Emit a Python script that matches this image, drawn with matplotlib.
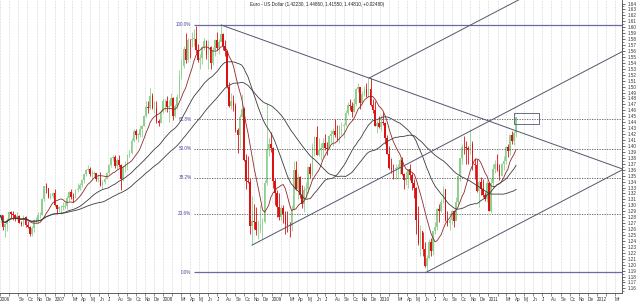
import numpy as np
import pandas as pd
import matplotlib
matplotlib.use('Agg')
import matplotlib.pyplot as plt
import matplotlib.dates as mdates
from matplotlib.patches import Rectangle

# Weekly EUR/USD candles, week starting 2006-07-03 (open = previous close)
first_open = 1.2790
close = [
    # 2006 Jul-Dec
    1.2830, 1.2630, 1.2680, 1.2760, 1.2880,
    1.2850, 1.2830, 1.2770, 1.2820,
    1.2710, 1.2680, 1.2810, 1.2670,
    1.2640, 1.2520, 1.2620, 1.2750, 1.2760,
    1.2830, 1.2840, 1.3100, 1.3320,
    1.3290, 1.3140, 1.3150, 1.3200,
    # 2007
    1.3000, 1.2930, 1.2970, 1.2980, 1.2980,
    1.2990, 1.3130, 1.3230, 1.3140,
    1.3120, 1.3260, 1.3270, 1.3350,
    1.3430, 1.3520, 1.3600, 1.3620, 1.3520,
    1.3520, 1.3540, 1.3450, 1.3450,
    1.3340, 1.3400, 1.3450, 1.3550,
    1.3680, 1.3790, 1.3820, 1.3670, 1.3760,
    1.3680, 1.3450, 1.3640, 1.3670,
    1.3840, 1.3880, 1.4080, 1.4260,
    1.4190, 1.4190, 1.4290, 1.4340, 1.4510,
    1.4660, 1.4640, 1.4840, 1.4640,
    1.4640, 1.4420, 1.4390, 1.4580, 1.4750,
    # 2008
    1.4750, 1.4660, 1.4680, 1.4800,
    1.4500, 1.4670, 1.4830, 1.5180,
    1.5350, 1.5640, 1.5440, 1.5790, 1.5780,
    1.5810, 1.5810, 1.5620, 1.5450,
    1.5490, 1.5660, 1.5770, 1.5530,
    1.5660, 1.5400, 1.5610, 1.5790, 1.5650,
    1.5750, 1.5880, 1.5690, 1.5600,
    1.5000, 1.4680, 1.4760, 1.4680,
    1.4270, 1.4190, 1.4490, 1.4620, 1.3760,
    1.3410, 1.3400, 1.2650, 1.2730,
    1.2720, 1.2580, 1.2580, 1.2690,
    1.2720, 1.3370, 1.3950, 1.4040, 1.3960,
    # 2009
    1.3410, 1.3200, 1.2970, 1.2800,
    1.2950, 1.2850, 1.2680, 1.2670,
    1.2660, 1.2920, 1.3600, 1.3270, 1.3480,
    1.3180, 1.3030, 1.3260, 1.3280,
    1.3650, 1.3520, 1.3990, 1.4150,
    1.3850, 1.3930, 1.3960, 1.4050, 1.3960,
    1.3950, 1.4170, 1.4200, 1.4250,
    1.4190, 1.4180, 1.4330, 1.4340, 1.4350,
    1.4560, 1.4690, 1.4680, 1.4580,
    1.4710, 1.4960, 1.5000, 1.4720,
    1.4870, 1.4960, 1.4860, 1.4960, 1.4690,
    1.4610, 1.4340, 1.4380, 1.4320,
    # 2010
    1.4410, 1.4380, 1.4140, 1.3870,
    1.3630, 1.3620, 1.3610, 1.3630,
    1.3630, 1.3770, 1.3520, 1.3420, 1.3460,
    1.3610, 1.3510, 1.3370, 1.3290,
    1.2760, 1.2360, 1.2570, 1.2270, 1.1970,
    1.2110, 1.2390, 1.2230, 1.2560,
    1.2640, 1.2940, 1.2900, 1.3060,
    1.3280, 1.2760, 1.2710, 1.2760, 1.2900,
    1.2740, 1.3060, 1.3490, 1.3790,
    1.3990, 1.3980, 1.3960, 1.3940,
    1.4040, 1.3700, 1.3680, 1.3240, 1.3400,
    1.3280, 1.3180, 1.3100, 1.3380,
    # 2011 Jan-Apr
    1.2910, 1.3380, 1.3610, 1.3690, 1.3590,
    1.3500, 1.3690, 1.3750, 1.3980,
    1.3910, 1.4180, 1.4090, 1.4223,
    1.4481,
]
high = [
    1.2860, 1.2840, 1.2700, 1.2780, 1.2900,
    1.2900, 1.2900, 1.2850, 1.2880,
    1.2840, 1.2740, 1.2830, 1.2820,
    1.2740, 1.2650, 1.2650, 1.2770, 1.2800,
    1.2880, 1.2880, 1.3120, 1.3330,
    1.3370, 1.3300, 1.3200, 1.3230,
    1.3270, 1.3010, 1.2990, 1.3000, 1.3060,
    1.3060, 1.3160, 1.3240, 1.3270,
    1.3210, 1.3280, 1.3380, 1.3380,
    1.3440, 1.3540, 1.3620, 1.3680, 1.3650,
    1.3590, 1.3580, 1.3540, 1.3520,
    1.3560, 1.3420, 1.3480, 1.3560,
    1.3690, 1.3810, 1.3850, 1.3850, 1.3790,
    1.3850, 1.3690, 1.3660, 1.3740,
    1.3860, 1.3930, 1.4130, 1.4280,
    1.4280, 1.4220, 1.4350, 1.4360, 1.4530,
    1.4750, 1.4760, 1.4970, 1.4900,
    1.4750, 1.4760, 1.4450, 1.4610, 1.4800,
    1.4790, 1.4850, 1.4770, 1.4900,
    1.4830, 1.4700, 1.4870, 1.5280,
    1.5470, 1.5680, 1.5900, 1.5820, 1.5800,
    1.5920, 1.5970, 1.6020, 1.5720,
    1.5550, 1.5680, 1.5820, 1.5780,
    1.5780, 1.5680, 1.5670, 1.5800, 1.5920,
    1.5800, 1.6038, 1.5900, 1.5790,
    1.5620, 1.5070, 1.4900, 1.4860,
    1.4730, 1.4300, 1.4540, 1.4870, 1.4650,
    1.3870, 1.3830, 1.3460, 1.3150,
    1.3020, 1.2970, 1.2750, 1.3000,
    1.2780, 1.3420, 1.4720, 1.4140, 1.4240,
    1.3980, 1.3460, 1.3260, 1.3200,
    1.3000, 1.3000, 1.2900, 1.2900,
    1.2720, 1.3000, 1.3740, 1.3740, 1.3530,
    1.3490, 1.3340, 1.3320, 1.3400,
    1.3660, 1.3720, 1.4050, 1.4160,
    1.4340, 1.4130, 1.4050, 1.4130, 1.4200,
    1.4060, 1.4190, 1.4270, 1.4310,
    1.4450, 1.4350, 1.4350, 1.4400, 1.4390,
    1.4610, 1.4740, 1.4790, 1.4740,
    1.4800, 1.4970, 1.5060, 1.5000,
    1.4930, 1.5010, 1.5060, 1.5144, 1.5140,
    1.4790, 1.4750, 1.4440, 1.4510,
    1.4530, 1.4580, 1.4400, 1.4190,
    1.4000, 1.3790, 1.3700, 1.3690,
    1.3690, 1.3790, 1.3820, 1.3550, 1.3580,
    1.3620, 1.3690, 1.3550, 1.3440,
    1.3310, 1.2990, 1.2670, 1.2550, 1.2380,
    1.2170, 1.2440, 1.2450, 1.2570,
    1.2720, 1.2960, 1.3030, 1.3110,
    1.3330, 1.3280, 1.2900, 1.2780, 1.2920,
    1.2920, 1.3140, 1.3500, 1.3800,
    1.4030, 1.4160, 1.4080, 1.4000,
    1.4280, 1.4080, 1.3790, 1.3780, 1.3420,
    1.3470, 1.3440, 1.3220, 1.3420,
    1.3400, 1.3460, 1.3690, 1.3760, 1.3860,
    1.3700, 1.3720, 1.3830, 1.4000,
    1.4040, 1.4190, 1.4250, 1.4250,
    1.4486,
]
low = [
    1.2710, 1.2580, 1.2460, 1.2560, 1.2720,
    1.2780, 1.2750, 1.2740, 1.2760,
    1.2700, 1.2650, 1.2660, 1.2630,
    1.2620, 1.2490, 1.2480, 1.2550, 1.2700,
    1.2700, 1.2780, 1.2830, 1.3080,
    1.3210, 1.3120, 1.3100, 1.3120,
    1.2990, 1.2860, 1.2890, 1.2860, 1.2920,
    1.2930, 1.2940, 1.3080, 1.3100,
    1.3060, 1.3120, 1.3230, 1.3250,
    1.3310, 1.3380, 1.3500, 1.3570, 1.3490,
    1.3440, 1.3470, 1.3410, 1.3400,
    1.3320, 1.3270, 1.3360, 1.3440,
    1.3530, 1.3650, 1.3750, 1.3630, 1.3620,
    1.3640, 1.3260, 1.3410, 1.3560,
    1.3600, 1.3810, 1.3860, 1.4060,
    1.4110, 1.4070, 1.4150, 1.4150, 1.4330,
    1.4490, 1.4560, 1.4620, 1.4620,
    1.4560, 1.4390, 1.4340, 1.4380, 1.4560,
    1.4590, 1.4580, 1.4400, 1.4670,
    1.4440, 1.4480, 1.4620, 1.4800,
    1.5130, 1.5310, 1.5400, 1.5420, 1.5480,
    1.5660, 1.5680, 1.5560, 1.5420,
    1.5290, 1.5380, 1.5620, 1.5470,
    1.5300, 1.5300, 1.5370, 1.5520, 1.5610,
    1.5550, 1.5790, 1.5620, 1.5520,
    1.4970, 1.4650, 1.4630, 1.4590,
    1.4230, 1.3880, 1.3960, 1.4490, 1.3740,
    1.3280, 1.3380, 1.2520, 1.2330,
    1.2600, 1.2500, 1.2430, 1.2540,
    1.2440, 1.2700, 1.3340, 1.3830, 1.3900,
    1.3290, 1.3000, 1.2800, 1.2750,
    1.2750, 1.2700, 1.2510, 1.2550,
    1.2460, 1.2570, 1.2920, 1.3260, 1.3110,
    1.3130, 1.2960, 1.2890, 1.3120,
    1.3210, 1.3460, 1.3500, 1.3830,
    1.3840, 1.3830, 1.3760, 1.3820, 1.3930,
    1.3840, 1.3960, 1.4050, 1.4000,
    1.4150, 1.4080, 1.4050, 1.4190, 1.4130,
    1.4330, 1.4530, 1.4600, 1.4480,
    1.4570, 1.4670, 1.4910, 1.4630,
    1.4700, 1.4840, 1.4830, 1.4830, 1.4680,
    1.4560, 1.4330, 1.4220, 1.4300,
    1.4260, 1.4360, 1.4030, 1.3860,
    1.3620, 1.3540, 1.3440, 1.3440,
    1.3440, 1.3530, 1.3510, 1.3270, 1.3350,
    1.3300, 1.3420, 1.3250, 1.3120,
    1.2520, 1.2340, 1.2150, 1.2150, 1.1960,
    1.1876, 1.2090, 1.2150, 1.2160,
    1.2510, 1.2590, 1.2720, 1.2880,
    1.3040, 1.2740, 1.2660, 1.2590, 1.2690,
    1.2630, 1.2790, 1.3000, 1.3410,
    1.3690, 1.3860, 1.3700, 1.3690,
    1.3870, 1.3600, 1.3450, 1.3220, 1.2970,
    1.3170, 1.3140, 1.3070, 1.3060,
    1.2900, 1.2870, 1.3300, 1.3550, 1.3570,
    1.3430, 1.3490, 1.3600, 1.3700,
    1.3820, 1.3850, 1.4030, 1.4010,
    1.4155,
]

title = 'Euro - US Dollar (1.42230, 1.44860, 1.41550, 1.44810, +0.02480)'
ma_periods = [10, 30, 50]
ma_colors = ['#8e2b2b', '#3c3c3c', '#3c3c3c']

fib_pcts = [0.0, 23.6, 38.2, 50.0, 61.8, 100.0]
fib_start = '2008-04-15'
swing_low, swing_high = 1.1876, 1.6038

# trend line anchors (date, price)
down_a = ('2008-07-15', 1.6038)
down_b = ('2009-11-25', 1.5144)
chan_anchors = [('2008-10-27', 1.2330), ('2009-11-25', 1.5144), ('2010-06-07', 1.1876)]
chan_slope = 0.0955  # price per year

box_x = ('2011-03-28', '2011-06-20')
box_y = (1.4365, 1.4555)

month_abbr = ['', '', 'Mr', 'Ap', 'Mj', 'Jn', 'Jl', 'Au', 'Se', 'Oc', 'No', 'De']

# ---------------------------------------------------------------
weeks = pd.date_range('2006-07-03', periods=len(close), freq='7D')
opens = [first_open] + close[:-1]
xd = mdates.date2num(weeks)

plt.rcParams['font.family'] = ['Liberation Sans', 'DejaVu Sans']
fig = plt.figure(figsize=(6.4, 3.04), dpi=100)
ax = fig.add_axes([0.0, 0.036, 0.972, 0.964])

x_left = mdates.date2num(pd.Timestamp('2006-07-01'))
x_right = mdates.date2num(pd.Timestamp('2012-03-26'))
ax.set_xlim(x_left, x_right)
ax.set_ylim(1.1522, 1.6459)

# monthly vertical grid
months = pd.date_range('2006-07-01', '2012-03-01', freq='MS')
for m in months:
    ax.axvline(mdates.date2num(m), color='#c9c9c9', lw=0.5, ls=(0, (1, 1.2)), zorder=0)

# candles
for xi, o, h, l, c in zip(xd, opens, high, low, close):
    col = '#8fd08f' if c >= o else '#dd1111'
    ax.vlines(xi, l, h, color=col, lw=0.6, zorder=2)
    ax.bar(xi, max(abs(c - o), 0.0008), bottom=min(o, c), width=5.5, color=col,
           linewidth=0, zorder=3)

# moving averages
cs = pd.Series(close, index=weeks)
for p, col in zip(ma_periods, ma_colors):
    ma = cs.rolling(p, min_periods=1).mean()
    ax.plot(xd, ma.values, color=col, lw=0.6, zorder=4)

# fibonacci levels
fx0 = mdates.date2num(pd.Timestamp(fib_start))
for pct in fib_pcts:
    lvl = swing_low + pct / 100 * (swing_high - swing_low)
    if pct in (0.0, 100.0):
        ax.hlines(lvl, fx0, x_right, color='#6a6aa6', lw=0.9, zorder=5)
    else:
        ax.hlines(lvl, fx0, x_right, color='#555555', lw=0.6, ls=(0, (1.5, 1.5)), zorder=5)
    ax.annotate(f'{pct:.1f}%', (fx0, lvl), xytext=(-2, 0), textcoords='offset points',
                ha='right', va='center', fontsize=3.3, color='#4a4aa0')

# trend lines
def dn(s):
    return mdates.date2num(pd.Timestamp(s))

a0, a1 = dn(down_a[0]), dn(down_b[0])
slope_d = (down_b[1] - down_a[1]) / (a1 - a0)
ax.plot([a0, x_right], [down_a[1], down_a[1] + slope_d * (x_right - a0)],
        color='#55556e', lw=0.7, zorder=5)
sl = chan_slope / 365.25
for d, p in chan_anchors:
    x0 = dn(d)
    ax.plot([x0, x_right], [p, p + sl * (x_right - x0)], color='#55556e', lw=0.7, zorder=5)

bx0, bx1 = dn(box_x[0]), dn(box_x[1])
ax.add_patch(Rectangle((bx0, box_y[0]), bx1 - bx0, box_y[1] - box_y[0], fill=False,
                       edgecolor='#55556e', lw=0.6, zorder=6))

ax.text(0.402, 0.986, title, transform=ax.transAxes, fontsize=3.3, ha='left', va='center',
        color='#222222')

# axes styling
ax.spines['left'].set_visible(False)
ax.spines['top'].set_visible(False)
ax.spines['right'].set_color('#444444')
ax.spines['bottom'].set_color('#444444')
ax.spines['right'].set_linewidth(0.6)
ax.spines['bottom'].set_linewidth(0.6)
ax.yaxis.tick_right()
yt = np.round(np.arange(1.16, 1.645, 0.01), 2)
ax.set_yticks(yt)
ax.set_yticklabels([f'{v:.2f}' for v in yt])
ax.set_yticks(np.round(np.arange(1.155, 1.645, 0.01), 3), minor=True)
ax.tick_params(axis='y', which='major', labelsize=3.3, length=2.5, width=0.5, pad=1.5,
               colors='#333333')
ax.tick_params(axis='y', which='minor', length=1.5, width=0.4, colors='#333333')

labels = []
for i, m in enumerate(months):
    if i == 0 or m.month == 1:
        labels.append(str(m.year))
    elif i == 1:
        labels.append('')
    else:
        labels.append(month_abbr[m.month - 1])
ax.set_xticks(mdates.date2num(months))
ax.set_xticklabels(labels, ha='left')
ax.tick_params(axis='x', labelsize=3.3, length=2, width=0.4, pad=1, colors='#333333')

fig.savefig('out.png', dpi=100)
